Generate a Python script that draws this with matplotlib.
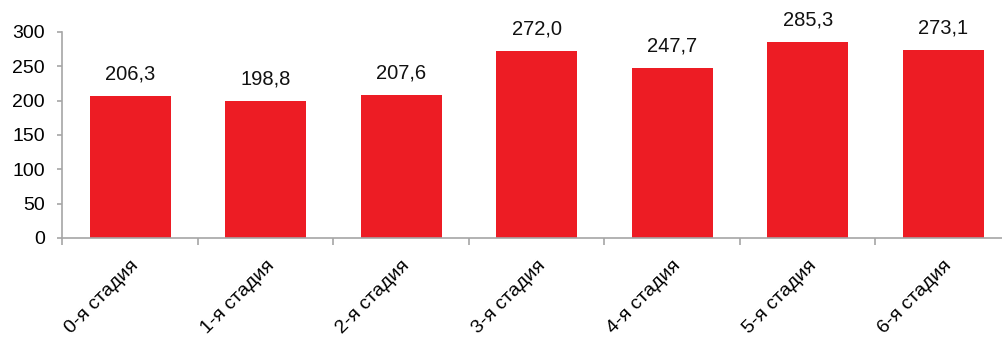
import matplotlib
matplotlib.use("Agg")
import matplotlib.pyplot as plt
import numpy as np

categories = ["0-я стадия", "1-я стадия", "2-я стадия", "3-я стадия",
              "4-я стадия", "5-я стадия", "6-я стадия"]
values = [206.3, 198.8, 207.6, 272.0, 247.7, 285.3, 273.1]
labels = ["206,3", "198,8", "207,6", "272,0", "247,7", "285,3", "273,1"]

plt.rcParams["font.family"] = ["Liberation Sans", "DejaVu Sans"]
AXIS = "#a6a6a6"
W, H = 1003, 337

fig = plt.figure(figsize=(W / 100, H / 100), dpi=100)
# axes run slightly past the right edge, as in the cropped original
ax = fig.add_axes([62.5 / W, 1 - 238 / H, (1011 - 62.5) / W, (238 - 32) / H])

x = np.arange(len(categories))
bars = ax.bar(x, values, width=0.6, color="#ed1c24", zorder=2)
for rect, text in zip(bars, labels):
    ax.annotate(text, (rect.get_x() + rect.get_width() / 2, rect.get_height()),
                xytext=(0, 9), textcoords="offset points", ha="center", va="bottom",
                fontsize=14.5, color="#111111")

ax.set_xlim(-0.5, len(categories) - 0.5)
ax.set_ylim(0, 300)
ax.set_yticks(range(0, 301, 50))
ax.set_xticks(np.arange(-0.5, len(categories), 1.0))
ax.set_xticklabels([])
ax.set_xticks(x, minor=True)
ax.set_xticklabels(categories, minor=True, rotation=45, ha="right", va="top",
                   rotation_mode="anchor", fontsize=14)
ax.tick_params(axis="x", which="minor", length=0, pad=14)
ax.tick_params(axis="x", which="major", length=5, color=AXIS, width=1.2)
ax.tick_params(axis="y", length=3.6, color=AXIS, width=1.2, labelsize=14, pad=9)

for side in ("top", "right"):
    ax.spines[side].set_visible(False)
for side in ("left", "bottom"):
    ax.spines[side].set_color(AXIS)
    ax.spines[side].set_linewidth(1.2)

fig.savefig("out.png", dpi=100)
